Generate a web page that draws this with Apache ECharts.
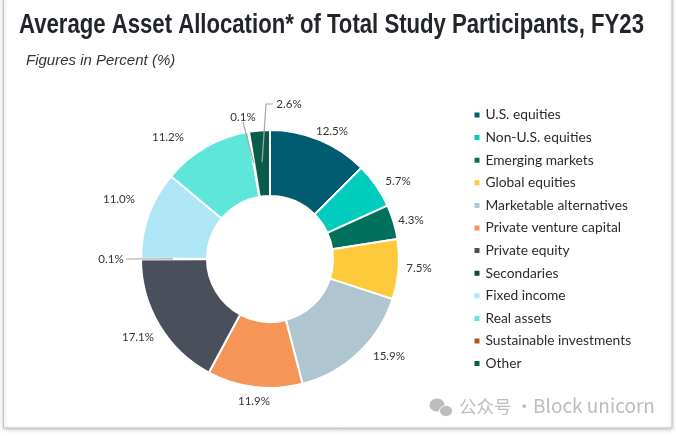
<!DOCTYPE html>
<html>
<head>
<meta charset="utf-8">
<script src="https://cdn.jsdelivr.net/npm/echarts@6/dist/echarts.min.js"></script>
<style>
    html, body, #main { width: 100%; height: 100%; margin: 0; background: #fff; }
</style>
</head>
<body>
<div id="main"></div>
<script>
var categories = ['U.S. equities', 'Non-U.S. equities', 'Emerging markets', 'Global equities',
    'Marketable alternatives', 'Private venture capital', 'Private equity', 'Secondaries',
    'Fixed income', 'Real assets', 'Sustainable investments', 'Other'];
var values = [12.5, 5.7, 4.3, 7.5, 15.9, 11.9, 17.1, 0.1, 11.0, 11.2, 0.1, 2.6];
var colors = ['#005a70', '#00cdbd', '#006f5c', '#ffc93c', '#afc6d0', '#f59558',
    '#4a4f5c', '#0a4a3c', '#aee6f5', '#5fe6da', '#b5521f', '#0a5c4a'];

// label centres
var labelPos = [[332, 131], [398, 181], [411, 220], [419, 268], [389, 356], [254, 401],
    [138, 337], [111, 259], [119, 199], [168, 137], [243, 117], [289, 104]];
// leader lines run from the label to the middle of the ring
var leaders = {
    7: [[126, 259]],
    10: [[243, 122]],
    11: [[273, 104], [266, 104]]
};

var cx = 270, cy = 259, midRing = 97;
var total = values.reduce(function (a, b) { return a + b; }, 0);

function ringPoint(index) {
    var before = values.slice(0, index).reduce(function (a, b) { return a + b; }, 0);
    var a = (before + values[index] / 2) / total * 2 * Math.PI;
    return [cx + midRing * Math.sin(a), cy - midRing * Math.cos(a)];
}

var leaderLines = Object.keys(leaders).map(function (i) {
    return {
        type: 'polyline',
        z: 10,
        shape: { points: leaders[i].concat([ringPoint(+i)]) },
        style: { fill: null, stroke: '#a6a6a6', lineWidth: 1.2 }
    };
});

var chart = echarts.init(document.getElementById('main'));

chart.setOption({
    animation: false,
    legend: {
        orient: 'vertical',
        left: 472.5,
        top: 107.5,
        padding: 0,
        icon: 'rect',
        itemWidth: 7,
        itemHeight: 7,
        itemGap: 7.6,
        selectedMode: false,
        data: categories,
        textStyle: { fontFamily: 'Lato', fontSize: 13.8, color: '#2b2b2b', lineHeight: 15 }
    },
    graphic: [
        {
            type: 'rect',
            z: -1,
            shape: { x: 3.5, y: -6, width: 668.5, height: 434 },
            style: { fill: '#fff', stroke: '#c4c4c4', lineWidth: 1, shadowBlur: 4, shadowColor: 'rgba(0,0,0,0.25)', shadowOffsetY: 1 }
        },
        {
            type: 'text',
            x: 19,
            y: 12.5,
            scaleX: 0.82,
            style: {
                text: 'Average Asset Allocation* of Total Study Participants, FY23',
                fill: '#222529',
                font: 'bold 27px "Liberation Sans"'
            }
        },
        {
            type: 'text',
            x: 26,
            y: 53,
            style: { text: 'Figures in Percent (%)', fill: '#333', font: 'italic 15px "Liberation Sans"' }
        },
        { type: 'ellipse', shape: { cx: 437, cy: 405, rx: 7.5, ry: 6.5 }, style: { fill: '#bdbdbd' } },
        { type: 'ellipse', shape: { cx: 446, cy: 411, rx: 6.5, ry: 5.5 }, style: { fill: '#bdbdbd', stroke: '#fff', lineWidth: 1 } },
        {
            type: 'text',
            x: 459,
            y: 398,
            style: { text: '公众号 ·', fill: '#bdbdbd', font: '17.5px "Noto Sans CJK SC"' }
        },
        {
            type: 'text',
            x: 533,
            y: 396,
            style: { text: 'Block unicorn', fill: '#bdbdbd', font: '19px "Noto Sans CJK SC"' }
        }
    ].concat(leaderLines),
    series: [{
        type: 'pie',
        center: [cx, cy],
        radius: [63, 129],
        startAngle: 90,
        clockwise: true,
        itemStyle: { borderColor: '#fff', borderWidth: 2 },
        label: {
            show: true,
            position: 'outside',
            formatter: function (p) { return p.value.toFixed(1) + '%'; },
            fontFamily: 'Lato',
            fontSize: 11.5,
            color: '#333'
        },
        labelLine: { show: false },
        labelLayout: function (params) {
            var i = params.dataIndex;
            return {
                x: labelPos[i][0],
                y: labelPos[i][1],
                align: 'center',
                verticalAlign: 'middle',
                hideOverlap: false
            };
        },
        data: categories.map(function (name, i) {
            return { name: name, value: values[i], itemStyle: { color: colors[i] } };
        })
    }]
});
</script>
</body>
</html>
